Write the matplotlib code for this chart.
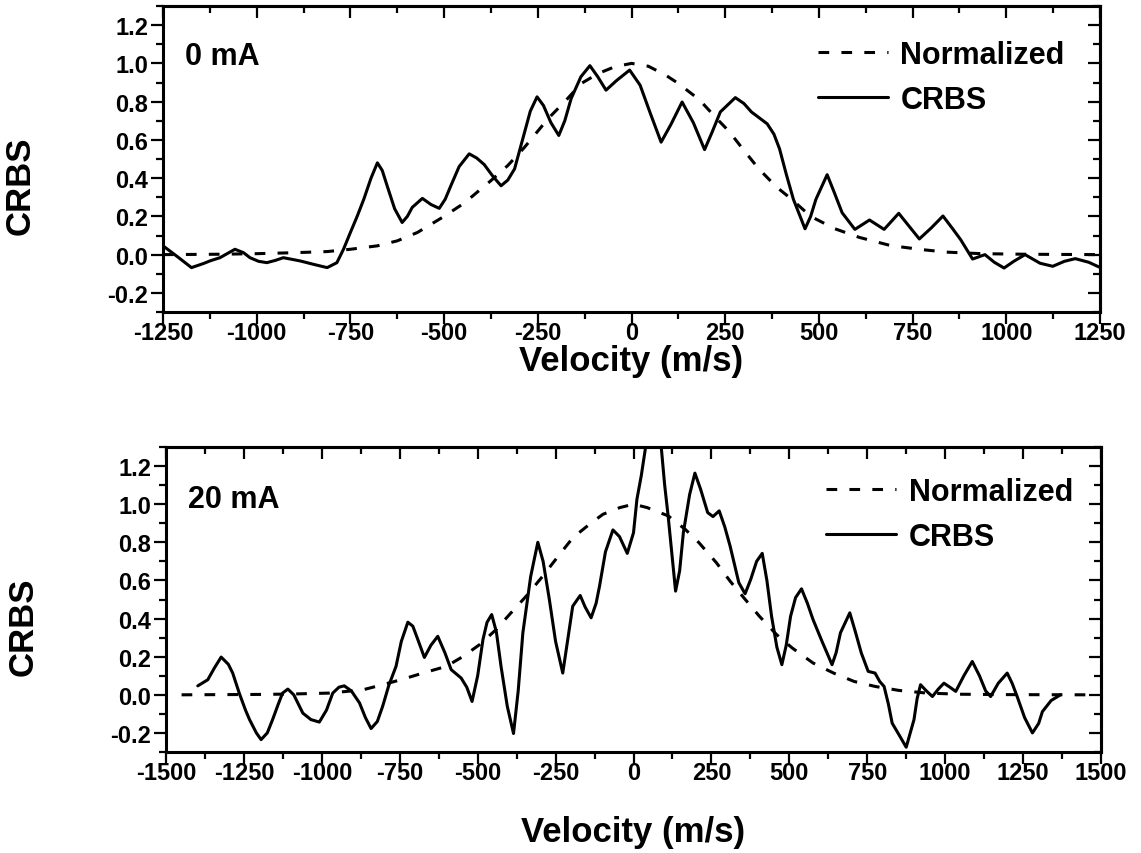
import matplotlib
matplotlib.use('Agg')
import matplotlib.pyplot as plt
from matplotlib.ticker import MultipleLocator, FormatStrFormatter

plt.rcParams['font.family'] = ['Liberation Sans', 'DejaVu Sans']
plt.rcParams['font.weight'] = 'bold'
plt.rcParams['axes.unicode_minus'] = False

# ---------------- data: top panel (0 mA) ----------------
top_crbs_v = [-1250, -1212, -1174, -1140, -1125, -1098, -1058, -1035, -1018, -995, -973, -950,
              -929, -905, -884, -850, -812, -786, -768, -750, -732, -714, -695, -678, -665,
              -652, -632, -612, -598, -585, -558, -535, -513, -497, -482, -460, -433, -413,
              -393, -370, -348, -330, -312, -290, -270, -252, -235, -215, -194, -178, -161,
              -135, -111, -90, -68, -40, -5, 23, 50, 79, 105, 135, 165, 195, 215, 237, 277,
              300, 320, 362, 380, 395, 413, 432, 463, 478, 492, 522, 540, 562, 596, 635, 674,
              713, 740, 768, 800, 831, 855, 878, 910, 943, 968, 994, 1020, 1050, 1090, 1124,
              1155, 1184, 1220, 1250]
top_crbs_y = [0.046, -0.01, -0.068, -0.045, -0.033, -0.016, 0.028, 0.01, -0.016, -0.035, -0.042,
              -0.03, -0.016, -0.025, -0.033, -0.05, -0.068, -0.042, 0.03, 0.116, 0.2, 0.291,
              0.4, 0.48, 0.44, 0.36, 0.24, 0.168, 0.2, 0.247, 0.294, 0.262, 0.242, 0.29, 0.36,
              0.46, 0.527, 0.505, 0.471, 0.41, 0.36, 0.39, 0.448, 0.606, 0.75, 0.825, 0.78,
              0.69, 0.623, 0.7, 0.816, 0.93, 0.988, 0.93, 0.86, 0.91, 0.965, 0.886, 0.74,
              0.588, 0.68, 0.798, 0.69, 0.549, 0.64, 0.746, 0.821, 0.79, 0.746, 0.684, 0.63,
              0.553, 0.42, 0.289, 0.135, 0.2, 0.289, 0.418, 0.33, 0.219, 0.132, 0.181, 0.132,
              0.216, 0.15, 0.082, 0.14, 0.202, 0.14, 0.079, -0.023, 0.0, -0.04, -0.07, -0.035,
              0.0, -0.045, -0.061, -0.035, -0.021, -0.04, -0.067]

top_norm_v = [-1250, -1100, -1000, -900, -812, -750, -678, -625, -571, -500, -446, -375, -330,
              -286, -223, -178, -134, -89, -45, 0, 45, 90, 125, 181, 228, 260, 302, 339, 386,
              427, 478, 543, 608, 692, 776, 841, 934, 1050, 1250]
top_norm_y = [0.0, 0.002, 0.005, 0.01, 0.016, 0.028, 0.046, 0.072, 0.116, 0.2, 0.27, 0.387,
              0.466, 0.56, 0.71, 0.80, 0.895, 0.947, 0.982, 1.0, 0.985, 0.94, 0.895, 0.81,
              0.71, 0.645, 0.54, 0.45, 0.355, 0.29, 0.2, 0.135, 0.09, 0.047, 0.026, 0.013,
              0.005, 0.002, 0.0]

# ---------------- data: bottom panel (20 mA) ----------------
bot_crbs_v = [-1398, -1366, -1345, -1323, -1300, -1286, -1265, -1245, -1232, -1210, -1195, -1175,
              -1158, -1140, -1126, -1109, -1090, -1075, -1061, -1035, -1008, -985, -965, -945,
              -928, -905, -879, -860, -842, -822, -805, -785, -762, -745, -724, -708, -692,
              -671, -650, -628, -605, -585, -553, -535, -518, -500, -483, -470, -455, -440,
              -425, -405, -385, -370, -355, -330, -307, -290, -270, -250, -227, -210, -195,
              -171, -155, -136, -120, -109, -90, -66, -45, -20, 0, 11, 25, 39, 62, 89, 100,
              111, 135, 148, 160, 180, 197, 215, 238, 255, 275, 293, 310, 338, 358, 376, 395,
              413, 428, 443, 460, 476, 490, 504, 520, 539, 558, 576, 605, 637, 650, 664, 694,
              712, 731, 753, 775, 790, 804, 818, 830, 852, 875, 888, 900, 910, 921, 940, 959,
              978, 996, 1015, 1034, 1060, 1087, 1110, 1130, 1146, 1170, 1199, 1215, 1231,
              1255, 1280, 1300, 1312, 1340, 1370]
bot_crbs_y = [0.047, 0.079, 0.14, 0.198, 0.16, 0.114, 0.009, -0.08, -0.13, -0.2, -0.235, -0.2,
              -0.13, -0.05, 0.009, 0.03, 0.0, -0.05, -0.096, -0.13, -0.143, -0.08, 0.009, 0.04,
              0.047, 0.02, -0.043, -0.12, -0.177, -0.14, -0.061, 0.05, 0.149, 0.28, 0.381,
              0.36, 0.29, 0.196, 0.26, 0.307, 0.22, 0.132, 0.088, 0.04, -0.035, 0.1, 0.29,
              0.38, 0.421, 0.33, 0.149, -0.06, -0.203, 0.02, 0.325, 0.62, 0.80, 0.7, 0.5,
              0.28, 0.114, 0.3, 0.465, 0.521, 0.46, 0.404, 0.48, 0.57, 0.75, 0.865, 0.83,
              0.742, 0.85, 1.026, 1.15, 1.30, 1.55, 1.30, 1.1, 0.94, 0.544, 0.65, 0.851, 1.05,
              1.163, 1.08, 0.956, 0.935, 0.965, 0.88, 0.78, 0.588, 0.53, 0.605, 0.7, 0.742,
              0.6, 0.412, 0.25, 0.158, 0.26, 0.412, 0.51, 0.556, 0.48, 0.395, 0.28, 0.158,
              0.22, 0.325, 0.43, 0.33, 0.219, 0.123, 0.114, 0.07, 0.044, -0.05, -0.149, -0.21,
              -0.275, -0.2, -0.13, -0.02, 0.053, 0.02, -0.009, 0.03, 0.061, 0.04, 0.018, 0.1,
              0.175, 0.1, 0.02, -0.009, 0.06, 0.114, 0.06, -0.009, -0.12, -0.2, -0.15, -0.088,
              -0.03, 0.0]

bot_norm_v = [-1450, -1200, -1100, -976, -869, -805, -740, -676, -601, -548, -494, -441, -398,
              -344, -291, -237, -194, -141, -98, -44, 0, 44, 111, 166, 210, 266, 310, 354, 404,
              459, 509, 576, 642, 708, 775, 852, 941, 1052, 1200, 1450]
bot_norm_y = [0.0, 0.002, 0.004, 0.009, 0.026, 0.053, 0.082, 0.114, 0.149, 0.2, 0.263, 0.342,
              0.421, 0.518, 0.623, 0.737, 0.825, 0.895, 0.947, 0.982, 1.0, 0.982, 0.939, 0.868,
              0.798, 0.693, 0.596, 0.509, 0.412, 0.316, 0.246, 0.167, 0.114, 0.07, 0.044,
              0.023, 0.009, 0.003, 0.001, 0.0]

panel_labels = ['0 mA', '20 mA']
legend_labels = ['Normalized', 'CRBS']
x_label = 'Velocity (m/s)'
y_label = 'CRBS'

LW = 2.2
TICK_FS = 17
LABEL_FS = 25
LEG_FS = 22

fig = plt.figure(figsize=(11.41, 8.54), dpi=100)
ax1 = fig.add_axes([163 / 1141, 1 - 313 / 854, 937 / 1141, 306 / 854])
ax2 = fig.add_axes([166 / 1141, 1 - 753 / 854, 935 / 1141, 305 / 854])


def style(ax, xlim, xmaj, panel, leg_anchor, txt_y, xlabelpad):
    ax.set_xlim(*xlim)
    ax.set_ylim(-0.3, 1.3)
    ax.xaxis.set_major_locator(MultipleLocator(xmaj))
    ax.xaxis.set_minor_locator(MultipleLocator(xmaj / 2))
    ax.yaxis.set_major_locator(MultipleLocator(0.2))
    ax.yaxis.set_minor_locator(MultipleLocator(0.1))
    ax.xaxis.set_major_formatter(FormatStrFormatter('%d'))
    ax.yaxis.set_major_formatter(FormatStrFormatter('%.1f'))
    for s in ax.spines.values():
        s.set_linewidth(LW)
    ax.tick_params(which='major', direction='out', length=8.5, width=1.6,
                   labelsize=TICK_FS, pad=2)
    ax.tick_params(axis='x', which='major', pad=-2)
    ax.tick_params(which='minor', direction='out', length=5, width=1.6)
    for lab in ax.get_xticklabels() + ax.get_yticklabels():
        lab.set_fontweight('bold')
    top = ax.secondary_xaxis('top')
    top.xaxis.set_major_locator(MultipleLocator(xmaj))
    top.xaxis.set_minor_locator(MultipleLocator(xmaj / 2))
    top.tick_params(which='major', direction='in', length=8.5, width=1.6, labeltop=False)
    top.tick_params(which='minor', direction='in', length=5, width=1.6)
    top.spines['top'].set_linewidth(LW)
    right = ax.secondary_yaxis('right')
    right.yaxis.set_major_locator(MultipleLocator(0.2))
    right.yaxis.set_minor_locator(MultipleLocator(0.1))
    right.tick_params(which='major', direction='in', length=8.5, width=1.6, labelright=False)
    right.tick_params(which='minor', direction='in', length=5, width=1.6)
    right.spines['right'].set_linewidth(LW)
    ax.set_xlabel(x_label, fontsize=LABEL_FS, fontweight='bold', labelpad=xlabelpad)
    ax.set_ylabel(y_label, fontsize=LABEL_FS, fontweight='bold')
    ax.yaxis.set_label_coords(-0.135, 0.415)
    ax.text(0.0235, txt_y, panel, transform=ax.transAxes, fontsize=LEG_FS,
            fontweight='bold', va='center', ha='left')
    leg = ax.legend(loc='upper left', bbox_to_anchor=leg_anchor, frameon=False,
                    fontsize=LEG_FS, handlelength=2.3, handletextpad=0.4,
                    labelspacing=0.5, borderpad=0, borderaxespad=0)
    for t in leg.get_texts():
        t.set_fontweight('bold')


ax1.plot(top_norm_v, top_norm_y, color='black', lw=LW, ls='--', dashes=(3.5, 4),
         label=legend_labels[0])
ax1.plot(top_crbs_v, top_crbs_y, color='black', lw=LW, solid_joinstyle='round',
         solid_capstyle='round', label=legend_labels[1])
style(ax1, (-1250, 1250), 250, panel_labels[0], (0.699, 0.89), 0.835, 0)

ax2.plot(bot_norm_v, bot_norm_y, color='black', lw=LW, ls='--', dashes=(3.5, 4),
         label=legend_labels[0])
ax2.plot(bot_crbs_v, bot_crbs_y, color='black', lw=LW, solid_joinstyle='round',
         solid_capstyle='round', label=legend_labels[1])
style(ax2, (-1500, 1500), 250, panel_labels[1], (0.706, 0.902), 0.83, 22)

fig.savefig('out.png', dpi=100)
